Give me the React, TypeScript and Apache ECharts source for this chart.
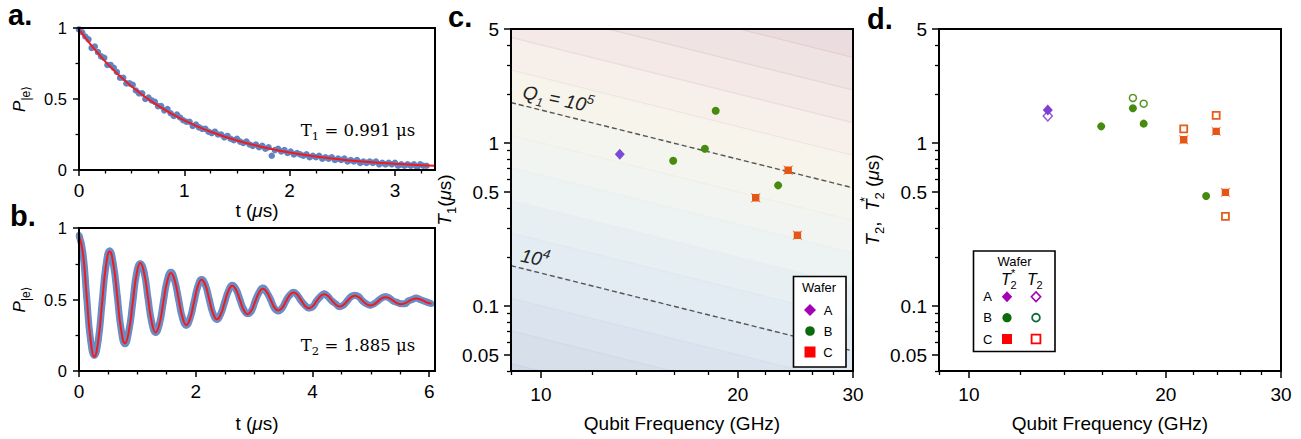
import React, { useEffect, useRef } from 'react';
import * as echarts from 'echarts';

const SANS = '"Liberation Sans", Arial, "DejaVu Sans", sans-serif';
const SERIF = '"DejaVu Serif", "Liberation Serif", serif';

// ---------- Panel a: T1 decay ----------
const tA = [0,0.03,0.06,0.09,0.12,0.15,0.18,0.21,0.24,0.27,
  0.3,0.33,0.36,0.39,0.42,0.45,0.48,0.51,0.54,0.57,
  0.6,0.63,0.66,0.69,0.72,0.75,0.78,0.81,0.84,0.87,
  0.9,0.93,0.96,0.99,1.02,1.05,1.08,1.11,1.14,1.17,
  1.2,1.23,1.26,1.29,1.32,1.35,1.38,1.41,1.44,1.47,
  1.5,1.53,1.56,1.59,1.62,1.65,1.68,1.71,1.74,1.77,
  1.8,1.83,1.86,1.89,1.92,1.95,1.98,2.01,2.04,2.07,
  2.1,2.13,2.16,2.19,2.22,2.25,2.28,2.31,2.34,2.37,
  2.4,2.43,2.46,2.49,2.52,2.55,2.58,2.61,2.64,2.67,
  2.7,2.73,2.76,2.79,2.82,2.85,2.88,2.91,2.94,2.97,
  3.0,3.03,3.06,3.09,3.12,3.15,3.18,3.21,3.24,3.27,3.3];
const pA = [0.99,0.97,0.94,0.92,0.86,0.87,0.83,0.80,0.79,0.74,
  0.74,0.72,0.69,0.65,0.65,0.61,0.61,0.60,0.56,0.54,
  0.54,0.50,0.51,0.49,0.48,0.45,0.45,0.42,0.43,0.40,
  0.38,0.39,0.37,0.35,0.34,0.34,0.31,0.32,0.30,0.29,
  0.29,0.27,0.26,0.27,0.25,0.25,0.23,0.24,0.22,0.21,
  0.22,0.20,0.19,0.20,0.18,0.17,0.18,0.16,0.17,0.15,
  0.16,0.10,0.14,0.15,0.13,0.14,0.12,0.13,0.11,0.12,
  0.11,0.10,0.11,0.09,0.10,0.09,0.10,0.08,0.09,0.08,
  0.09,0.07,0.08,0.07,0.08,0.06,0.07,0.06,0.07,0.05,
  0.06,0.05,0.06,0.05,0.06,0.04,0.05,0.04,0.05,0.04,
  0.05,0.03,0.04,0.03,0.04,0.03,0.04,0.02,0.04,0.03,0.03];
const fitTA = [0,0.25,0.5,0.75,1,1.25,1.5,1.75,2,2.25,2.5,2.75,3,3.25,3.38];
const fitPA = [0.99,0.763,0.588,0.453,0.349,0.269,0.208,0.16,0.123,0.095,0.073,0.056,0.044,0.034,0.03];

// ---------- Panel b: Ramsey / T2 ----------
const tB = [0,0.066,0.131,0.197,0.263,0.328,0.394,0.46,0.525,0.591,
  0.657,0.722,0.788,0.854,0.919,0.985,1.05,1.116,1.182,1.247,
  1.313,1.379,1.444,1.51,1.576,1.641,1.707,1.773,1.838,1.904,
  1.97,2.035,2.101,2.167,2.232,2.298,2.364,2.429,2.495,2.561,
  2.626,2.692,2.757,2.823,2.889,2.954,3.02,3.086,3.151,3.217,
  3.283,3.348,3.414,3.48,3.545,3.611,3.677,3.742,3.808,3.873,
  3.939,4.005,4.07,4.136,4.202,4.267,4.333,4.399,4.464,4.53,
  4.596,4.661,4.727,4.793,4.858,4.924,4.989,5.055,5.121,5.186,
  5.252,5.318,5.383,5.449,5.515,5.58,5.646,5.712,5.777,5.843,
  5.909,5.974,6.04];
const pB = [0.95,0.83,0.52,0.22, 0.11,0.21,0.47,0.73, 0.84,0.74,0.52,0.29,
  0.19,0.28,0.47,0.68, 0.75,0.69,0.51,0.34, 0.27,0.33,0.48,0.63,
  0.69,0.63,0.50,0.37, 0.32,0.37,0.48,0.59, 0.64,0.60,0.50,0.40,
  0.36,0.40,0.48,0.56, 0.60,0.57,0.50,0.43, 0.40,0.42,0.49,0.55,
  0.58,0.55,0.50,0.44, 0.42,0.44,0.49,0.53, 0.55,0.53,0.49,0.46,
  0.44,0.45,0.49,0.52, 0.54,0.52,0.49,0.47, 0.45,0.46,0.49,0.52,
  0.53,0.52,0.49,0.47, 0.46,0.47,0.49,0.51, 0.52,0.51,0.49,0.48,
  0.47,0.47,0.49,0.50, 0.51,0.50,0.49,0.48, 0.47];
const fitPB = [0.95,0.826,0.525,0.224, 0.10,0.207,0.468,0.729, 0.836,0.742,0.515,0.288,
  0.194,0.276,0.475,0.673, 0.755,0.684,0.513,0.341, 0.27,0.331,0.478,0.624,
  0.685,0.632,0.504,0.375, 0.322,0.368,0.48,0.592, 0.638,0.598,0.50,0.402,
  0.362,0.396,0.479,0.562, 0.596,0.567,0.497,0.426, 0.397,0.423,0.486,0.549,
  0.575,0.553,0.499,0.445, 0.423,0.441,0.486,0.531, 0.549,0.533,0.494,0.455,
  0.439,0.453,0.488,0.523, 0.537,0.524,0.494,0.464, 0.451,0.462,0.489,0.515,
  0.526,0.516,0.492,0.468, 0.458,0.466,0.487,0.508, 0.516,0.509,0.492,0.474,
  0.467,0.473,0.487,0.501, 0.507,0.502,0.49,0.477, 0.472];

// ---------- Panels c/d: coherence vs frequency (GHz, μs) ----------
const freqA = [13.2];
const freqB = [15.93, 17.81, 18.5, 23.05];
const freqC = [21.3, 23.88, 24.67];
const t1A = [0.852];
const t1B = [0.779, 0.923, 1.578, 0.55];
const t1C = [0.462, 0.68, 0.272];
const t2sA = [1.594];
const t2sB = [1.265, 1.632, 1.314, 0.473];
const t2sC = [1.048, 1.179, 0.498];
const t2A = [1.464];
const freqBT2 = [17.81, 18.5];
const t2B = [1.888, 1.742];
const t2C = [1.219, 1.478, 0.355];

const q5Line = [[9, 1.77], [30, 0.531]];
const q4Line = [[9, 0.177], [30, 0.0531]];

const LOGQ_LEVELS = [3.2,3.4,3.6,3.8,4.0,4.2,4.4,4.6,4.8,5.0,5.2,5.4,5.6,5.8,6.0];
const BAND_COLORS = ['#d3d9e6','#d7dfea','#dbe4ee','#dfe8f0','#e3ecf2','#e8eff3','#edf2f3',
  '#f1f4f1','#f5f5ef','#f7f4ec','#f7efe9','#f4e9e6','#f0e3e3','#ebdcdf'];
const CONTOUR_COLORS = ['#c5d3e6','#c8d6e8','#cddbea','#d3e0ec','#d8e5ee','#dee9f0','#e5eef0',
  '#eaf0ec','#efefe6','#f2ede3','#f0e4de','#ecdcda','#e8d4d6','#e4cfd3'];

const FREQ_MAJOR = [10, 20, 30];
const FREQ_MINOR = [9, 12, 14, 16, 18, 22, 24, 26, 28];
const TIME_MAJOR = [0.05, 0.1, 0.5, 1, 5];
const TIME_MINOR = [0.04, 0.06, 0.07, 0.08, 0.09, 0.2, 0.3, 0.4, 0.6, 0.7, 0.8, 0.9, 2, 3, 4];
const A_X_MAJOR = [0, 1, 2, 3];
const A_X_MINOR = [0.25, 0.5, 0.75, 1.25, 1.5, 1.75, 2.25, 2.5, 2.75, 3.25];
const B_X_MAJOR = [0, 2, 4, 6];
const B_X_MINOR = [0.5, 1, 1.5, 2.5, 3, 3.5, 4.5, 5, 5.5];
const P_Y_MAJOR = [0, 0.5, 1];
const P_Y_MINOR = [0.25, 0.75];

const lg = (v: number) => Math.log10(v);
const LOG_2PI = Math.log10(2 * Math.PI);

const logFmt = (v: number) => String(parseFloat(Math.pow(10, v).toPrecision(3)));
const linFmt = (v: number) => String(parseFloat(v.toFixed(2)));

const nameRich = (size: number) => ({
  n: { fontSize: size, fontFamily: SANS, color: '#000', lineHeight: 28, verticalAlign: 'middle' },
  i: { fontSize: size, fontFamily: SANS, fontStyle: 'italic', color: '#000', lineHeight: 28, verticalAlign: 'middle' },
  sb: { fontSize: 13, fontFamily: SANS, color: '#000', lineHeight: 14, verticalAlign: 'bottom' },
  spz: { fontSize: 13, fontFamily: SANS, color: '#000', lineHeight: 20, verticalAlign: 'top', width: 0.01, align: 'left' },
});

function axes(dim: 'x' | 'y', gridIndex: number, min: number, max: number, major: number[], minor: number[],
  fmt: (v: number) => string, fontSize: number, margin: number, majorLen: number, minorLen: number, extra: any) {
  const base = {
    type: 'value', gridIndex, min, max, position: dim === 'x' ? 'bottom' : 'left',
    splitLine: { show: false }, minorTick: { show: false }, minorSplitLine: { show: false }, z: 10,
  };
  const main = {
    ...base,
    axisLine: { show: true, onZero: false, lineStyle: { color: '#000', width: 2 } },
    axisTick: { show: true, inside: false, length: majorLen, customValues: major, lineStyle: { color: '#000', width: 1.5 } },
    axisLabel: { show: true, customValues: major, formatter: fmt, fontSize, fontFamily: SANS, color: '#000', margin },
    ...extra,
  };
  const mn = {
    ...base,
    axisLine: { show: false, onZero: false },
    axisTick: { show: true, inside: false, length: minorLen, customValues: minor, lineStyle: { color: '#000', width: 1.3 } },
    axisLabel: { show: false },
  };
  return [main, mn];
}

const pairs = (xs: number[], ys: number[]) => xs.map((x, i) => [x, ys[i]]);
const logPairs = (xs: number[], ys: number[]) => xs.map((x, i) => [lg(x), lg(ys[i])]);

const C_SYMBOL = 'path://M0 0L2 1.3L8 1.3L10 0L8.7 2L8.7 8L10 10L8 8.7L2 8.7L0 10L1.3 8L1.3 2Z';

const renderBand = (params: any, api: any) => {
  const lo = api.value(0), hi = api.value(1), idx = api.value(2);
  const x0 = lg(9), x1 = lg(30);
  const yAt = (lq: number, lx: number) => lq - LOG_2PI - 3 - lx;
  const a = api.coord([x0, yAt(lo, x0)]);
  const b = api.coord([x1, yAt(lo, x1)]);
  const c = api.coord([x1, yAt(hi, x1)]);
  const d = api.coord([x0, yAt(hi, x0)]);
  return {
    type: 'group',
    children: [
      { type: 'polygon', shape: { points: [a, b, c, d] }, style: { fill: BAND_COLORS[idx], stroke: BAND_COLORS[idx], lineWidth: 0.6 } },
      { type: 'line', shape: { x1: a[0], y1: a[1], x2: b[0], y2: b[1] }, style: { stroke: CONTOUR_COLORS[idx], lineWidth: 1.2 } },
    ],
  };
};

const letter = (t: string, x: number, y: number) => ({
  type: 'text', x, y, z: 100,
  style: { text: t, fontSize: 29, fontWeight: 'bold', fontFamily: SANS, fill: '#000', textVerticalAlign: 'middle' },
});
const txt = (t: string, x: number, y: number, size: number, extra: any = {}) => ({
  type: 'text', x, y, z: 101,
  style: { text: t, fontSize: size, fontFamily: SANS, fill: '#000', textAlign: 'center', textVerticalAlign: 'middle', ...extra },
});
const diamond = (cx: number, cy: number, hw: number, hh: number, style: any) => ({
  type: 'polygon', z: 101, shape: { points: [[cx, cy - hh], [cx + hw, cy], [cx, cy + hh], [cx - hw, cy]] }, style,
});

const serifRich = {
  n: { fontFamily: SERIF, fontSize: 16.5, lineHeight: 24, verticalAlign: 'middle', fill: '#000' },
  s: { fontFamily: SERIF, fontSize: 11.5, lineHeight: 12, verticalAlign: 'bottom', fill: '#000' },
};
const qRich = {
  q: { fontFamily: SANS, fontStyle: 'italic', fontSize: 19, lineHeight: 26, verticalAlign: 'middle', fill: '#222' },
  s: { fontFamily: SANS, fontStyle: 'italic', fontSize: 12, lineHeight: 12, verticalAlign: 'bottom', fill: '#222' },
  n: { fontFamily: SANS, fontStyle: 'italic', fontSize: 19, lineHeight: 26, verticalAlign: 'middle', fill: '#222' },
  p: { fontFamily: SANS, fontStyle: 'italic', fontSize: 13, lineHeight: 15, verticalAlign: 'top', fill: '#222' },
};

export default function App() {
  const ref = useRef<HTMLDivElement>(null);
  useEffect(() => {
    if (!ref.current) return;
    const chart = echarts.init(ref.current, undefined, { renderer: 'svg' });

    const xMinLog = lg(9), xMaxLog = lg(30), yMinLog = lg(0.04), yMaxLog = lg(5);
    const fMaj = FREQ_MAJOR.map(lg), fMin = FREQ_MINOR.map(lg), tMaj = TIME_MAJOR.map(lg), tMin = TIME_MINOR.map(lg);
    const richX = nameRich(19);
    const richP = {
      i: { fontSize: 17, fontFamily: SANS, fontStyle: 'italic', color: '#000', lineHeight: 26, verticalAlign: 'middle' },
      sb: { fontSize: 12, fontFamily: SANS, color: '#000', lineHeight: 13, verticalAlign: 'bottom' },
    };
    const freqName = { name: 'Qubit Frequency (GHz)', nameLocation: 'middle', nameGap: 43, nameTextStyle: { fontSize: 19, fontFamily: SANS, color: '#000' } };

    const xAxes = [
      ...axes('x', 0, 0, 3.38, A_X_MAJOR, A_X_MINOR, linFmt, 19, 11, 6, 3.5,
        { name: '{n|t (}{i|μ}{n|s)}', nameLocation: 'middle', nameGap: 25, nameTextStyle: { rich: richX } }),
      ...axes('x', 1, 0, 6.1, B_X_MAJOR, B_X_MINOR, linFmt, 19, 11, 6, 3.5,
        { name: '{n|t (}{i|μ}{n|s)}', nameLocation: 'middle', nameGap: 38, nameTextStyle: { rich: richX } }),
      ...axes('x', 2, xMinLog, xMaxLog, fMaj, fMin, logFmt, 19, 14, 7, 4, freqName),
      ...axes('x', 3, xMinLog, xMaxLog, fMaj, fMin, logFmt, 19, 14, 7, 4, freqName),
    ];
    const yAxes = [
      ...axes('y', 0, 0, 1, P_Y_MAJOR, P_Y_MINOR, linFmt, 16.5, 12, 6, 3.5,
        { name: '{i|P}{sb||e⟩}', nameLocation: 'middle', nameRotate: 90, nameGap: 47, nameTextStyle: { rich: richP } }),
      ...axes('y', 1, 0, 1, P_Y_MAJOR, P_Y_MINOR, linFmt, 16.5, 12, 6, 3.5,
        { name: '{i|P}{sb||e⟩}', nameLocation: 'middle', nameRotate: 90, nameGap: 47, nameTextStyle: { rich: richP } }),
      ...axes('y', 2, yMinLog, yMaxLog, tMaj, tMin, logFmt, 19, 12, 7, 4,
        { name: '{i|T}{sb|1}{n|(}{i|μ}{n|s)}', nameLocation: 'middle', nameRotate: 90, nameGap: 50, nameTextStyle: { rich: richX } }),
      ...axes('y', 3, yMinLog, yMaxLog, tMaj, tMin, logFmt, 19, 12, 7, 4,
        { name: '{i|T}{sb|2}{n|,  }{i|T}{spz|*}{sb|2}{n| (}{i|μ}{n|s)}', nameLocation: 'middle', nameRotate: 90, nameGap: 52, nameTextStyle: { rich: richX } }),
    ];

    const gridBase = { show: true, borderColor: '#000', borderWidth: 2, backgroundColor: 'transparent', z: 10, containLabel: false, outerBoundsMode: 'none' };
    const solid = (color: string, extra: any = {}) => ({ color, opacity: 1, ...extra });

    const series: any[] = [
      // a
      { type: 'scatter', xAxisIndex: 0, yAxisIndex: 0, data: pairs(tA, pA), symbol: 'circle', symbolSize: 6.5,
        itemStyle: solid('#6084c3'), z: 2, silent: true },
      { type: 'line', xAxisIndex: 0, yAxisIndex: 0, data: pairs(fitTA, fitPA), smooth: true, symbol: 'none',
        lineStyle: { color: '#f21b1b', width: 2 }, z: 3, silent: true },
      // b
      { type: 'line', xAxisIndex: 2, yAxisIndex: 2, data: pairs(tB, pB), smooth: 0.5, symbol: 'circle', symbolSize: 6.5, showSymbol: true,
        itemStyle: solid('#6a8dc6'), lineStyle: { color: '#6a8dc6', width: 7 }, z: 2, silent: true },
      { type: 'line', xAxisIndex: 2, yAxisIndex: 2, data: pairs(tB, fitPB), smooth: 0.5, symbol: 'none',
        lineStyle: { color: '#f21b1b', width: 2 }, z: 3, silent: true },
      // c background
      { type: 'custom', xAxisIndex: 4, yAxisIndex: 4, clip: true, z: 1, silent: true,
        data: LOGQ_LEVELS.slice(0, -1).map((lo, i) => [lo, LOGQ_LEVELS[i + 1], i]), renderItem: renderBand },
      { type: 'line', xAxisIndex: 4, yAxisIndex: 4, data: logPairs(q5Line.map(p => p[0]), q5Line.map(p => p[1])), symbol: 'none',
        lineStyle: { color: '#555', width: 1.4, type: [5, 3] }, z: 2, silent: true },
      { type: 'line', xAxisIndex: 4, yAxisIndex: 4, data: logPairs(q4Line.map(p => p[0]), q4Line.map(p => p[1])), symbol: 'none',
        lineStyle: { color: '#555', width: 1.4, type: [5, 3] }, z: 2, silent: true },
      { type: 'scatter', xAxisIndex: 4, yAxisIndex: 4, data: logPairs(freqA, t1A), symbol: 'diamond', symbolSize: [10, 11],
        itemStyle: solid('#7a4bd6'), z: 4, silent: true },
      { type: 'scatter', xAxisIndex: 4, yAxisIndex: 4, data: logPairs(freqB, t1B), symbol: 'circle', symbolSize: 8,
        itemStyle: solid('#468a0e'), z: 4, silent: true },
      { type: 'scatter', xAxisIndex: 4, yAxisIndex: 4, data: logPairs(freqC, t1C), symbol: C_SYMBOL, symbolSize: 10,
        itemStyle: solid('#e55516'), z: 4, silent: true },
      // d open (T2)
      { type: 'scatter', xAxisIndex: 6, yAxisIndex: 6, data: logPairs(freqA, t2A), symbol: 'diamond', symbolSize: [9, 10],
        itemStyle: solid('#fff', { borderColor: '#8a5ad8', borderWidth: 1.5 }), z: 3, silent: true },
      { type: 'scatter', xAxisIndex: 6, yAxisIndex: 6, data: logPairs(freqBT2, t2B), symbol: 'circle', symbolSize: 7,
        itemStyle: solid('#fff', { borderColor: '#559626', borderWidth: 1.5 }), z: 3, silent: true },
      { type: 'scatter', xAxisIndex: 6, yAxisIndex: 6, data: logPairs(freqC, t2C), symbol: 'rect', symbolSize: 7,
        itemStyle: solid('#fff', { borderColor: '#e55d18', borderWidth: 1.8 }), z: 3, silent: true },
      // d filled (T2*)
      { type: 'scatter', xAxisIndex: 6, yAxisIndex: 6, data: logPairs(freqA, t2sA), symbol: 'diamond', symbolSize: [10, 11],
        itemStyle: solid('#7f3fd4'), z: 4, silent: true },
      { type: 'scatter', xAxisIndex: 6, yAxisIndex: 6, data: logPairs(freqB, t2sB), symbol: 'circle', symbolSize: 8,
        itemStyle: solid('#468a0e'), z: 4, silent: true },
      { type: 'scatter', xAxisIndex: 6, yAxisIndex: 6, data: logPairs(freqC, t2sC), symbol: C_SYMBOL, symbolSize: 10,
        itemStyle: solid('#e55516'), z: 4, silent: true },
    ];

    const graphic: any[] = [
      letter('a.', 8, 15), letter('b.', 10, 216), letter('c.', 448, 17), letter('d.', 867, 19),
      { type: 'text', x: 358, y: 130, z: 100, style: { text: '{n|T}{s|1}{n| = 0.991 μs}', rich: serifRich, textAlign: 'center', textVerticalAlign: 'middle' } },
      { type: 'text', x: 358, y: 345, z: 100, style: { text: '{n|T}{s|2}{n| = 1.885 μs}', rich: serifRich, textAlign: 'center', textVerticalAlign: 'middle' } },
      { type: 'text', x: 558, y: 99, rotation: -0.21, z: 50, style: { text: '{q|Q}{s|1}{n| = 10}{p|5}', rich: qRich, textAlign: 'center', textVerticalAlign: 'middle' } },
      { type: 'text', x: 535, y: 258, rotation: -0.21, z: 50, style: { text: '{n|10}{p|4}', rich: qRich, textAlign: 'center', textVerticalAlign: 'middle' } },
      // legend c
      { type: 'rect', z: 100, shape: { x: 793.5, y: 276.5, width: 52.5, height: 90.5 }, style: { fill: '#fff', stroke: '#000', lineWidth: 1.6 } },
      txt('Wafer', 819, 287.5, 13),
      diamond(810, 310, 6, 6, { fill: '#a400b4' }),
      { type: 'circle', z: 101, shape: { cx: 810, cy: 331, r: 4.8 }, style: { fill: '#0b6b0b' } },
      { type: 'rect', z: 101, shape: { x: 804.5, y: 346.5, width: 11, height: 11 }, style: { fill: '#ff0000' } },
      txt('A', 828, 310, 13), txt('B', 828, 331, 13), txt('C', 828, 352, 13),
      // legend d
      { type: 'rect', z: 100, shape: { x: 973.5, y: 251, width: 81.5, height: 100.5 }, style: { fill: '#fff', stroke: '#000', lineWidth: 1.6 } },
      txt('Wafer', 1014.5, 261, 13),
      txt('T', 1006, 279, 16, { fontStyle: 'italic' }),
      txt('*', 1011, 273, 11, { textAlign: 'left' }),
      txt('2', 1010.5, 285, 11, { textAlign: 'left' }),
      txt('T', 1032, 279, 16, { fontStyle: 'italic' }),
      txt('2', 1036.5, 285, 11, { textAlign: 'left' }),
      txt('A', 987.7, 296.7, 13), txt('B', 987.7, 317.7, 13), txt('C', 987.7, 339, 13),
      diamond(1007, 296.7, 5.2, 5.5, { fill: '#a400b4' }),
      diamond(1036, 296.7, 4.6, 4.8, { fill: '#fff', stroke: '#a400b4', lineWidth: 1.6 }),
      { type: 'circle', z: 101, shape: { cx: 1007, cy: 317.7, r: 4.6 }, style: { fill: '#0b6b0b' } },
      { type: 'circle', z: 101, shape: { cx: 1036, cy: 317.7, r: 3.9 }, style: { fill: '#fff', stroke: '#0d6b3a', lineWidth: 1.8 } },
      { type: 'rect', z: 101, shape: { x: 1002, y: 334, width: 10, height: 10 }, style: { fill: '#ff0000' } },
      { type: 'rect', z: 101, shape: { x: 1031.6, y: 334.6, width: 8.8, height: 8.8 }, style: { fill: '#fff', stroke: '#ff0000', lineWidth: 1.8 } },
    ];

    chart.setOption({
      animation: false,
      textStyle: { fontFamily: SANS },
      grid: [
        { ...gridBase, left: 79, top: 28, width: 356, height: 142 },
        { ...gridBase, left: 79, top: 228, width: 356, height: 143 },
        { ...gridBase, left: 511, top: 29, width: 342, height: 342 },
        { ...gridBase, left: 939, top: 29, width: 342, height: 342 },
      ],
      xAxis: xAxes,
      yAxis: yAxes,
      series,
      graphic,
    });
    return () => chart.dispose();
  }, []);
  return <div ref={ref} style={{ position: 'absolute', left: 0, top: 0, width: 1301, height: 439, background: '#fff' }} />;
}
